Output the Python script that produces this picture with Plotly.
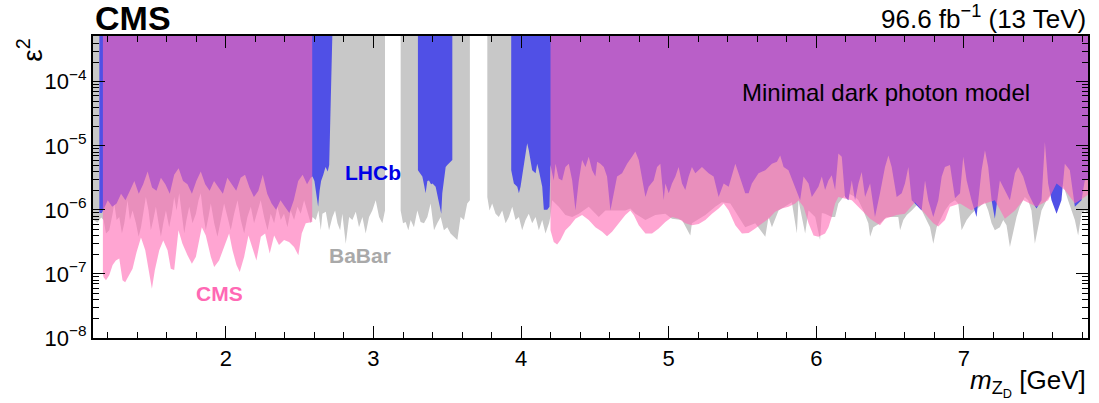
import plotly.graph_objects as go

# ---------------- data (mass in GeV, log10 of epsilon^2 lower boundary of excluded region) -------------
babar_seg1 = [
    (1.100, -6.15), (1.130, -6.20), (1.155, -6.12),
    (1.172, -6.16), (1.188, -6.37), (1.210, -6.32), (1.233, -6.06), (1.244, -5.90),
    (1.260, -6.16), (1.278, -6.11), (1.296, -6.37), (1.312, -6.21), (1.334, -5.85),
    (1.350, -6.16), (1.368, -6.01), (1.391, -6.21), (1.409, -6.42), (1.425, -6.27),
    (1.440, -6.06), (1.458, -5.80), (1.476, -6.01), (1.492, -6.32), (1.508, -6.16),
    (1.526, -5.95), (1.544, -6.21), (1.560, -6.42), (1.576, -6.21), (1.594, -6.01),
    (1.616, -6.27), (1.634, -6.06), (1.650, -5.80), (1.666, -6.01), (1.684, -5.74),
    (1.702, -6.11), (1.718, -6.37), (1.733, -6.16), (1.752, -5.95), (1.774, -6.21),
    (1.797, -6.06), (1.815, -5.85), (1.830, -5.74), (1.846, -6.06), (1.864, -6.32),
    (1.882, -6.11), (1.898, -5.90), (1.921, -6.21), (1.943, -6.42), (1.966, -6.16),
    (1.988, -5.90), (2.011, -6.11), (2.033, -6.32), (2.056, -6.06), (2.079, -5.85),
    (2.101, -6.16), (2.124, -6.37), (2.146, -6.11), (2.169, -5.95), (2.191, -6.21),
    (2.214, -6.01), (2.236, -5.85), (2.259, -6.11), (2.282, -6.32), (2.304, -6.06),
    (2.327, -6.21), (2.349, -5.95), (2.372, -6.16), (2.394, -6.06), (2.417, -6.27),
    (2.439, -6.01), (2.462, -6.16), (2.485, -5.95), (2.507, -6.06), (2.530, -5.85),
    (2.552, -6.01), (2.575, -6.21),
    (2.587, -6.11), (2.609, -6.16), (2.627, -6.01), (2.643, -6.32), (2.654, -6.06),
    (2.677, -6.03), (2.699, -6.32), (2.722, -6.11), (2.740, -6.01), (2.756, -6.21),
    (2.774, -6.32), (2.789, -6.06), (2.812, -6.53), (2.835, -6.11), (2.857, -6.16),
    (2.880, -6.03), (2.902, -6.27), (2.925, -6.11), (2.947, -6.37), (2.970, -6.11),
    (2.992, -6.01), (3.015, -5.85), (3.038, -6.11), (3.060, -6.21), (3.078, -6.01),
]
babar_seg2 = [
    (3.184, -6.01), (3.200, -6.21), (3.218, -6.19), (3.236, -6.32), (3.252, -6.16),
    (3.274, -6.27), (3.297, -6.01), (3.319, -6.19), (3.342, -6.21), (3.365, -6.11),
    (3.387, -5.90), (3.410, -6.32), (3.432, -6.21), (3.455, -6.11), (3.477, -6.32),
    (3.500, -6.27), (3.522, -6.37), (3.545, -6.42), (3.568, -6.47), (3.590, -6.11),
    (3.613, -6.16), (3.635, -5.90), (3.653, -5.85),
]
babar_seg3 = [
    (3.771, -5.80), (3.786, -6.01), (3.804, -5.90), (3.827, -6.06), (3.849, -6.11),
    (3.872, -6.01), (3.895, -6.21), (3.917, -6.11), (3.940, -5.95), (3.962, -6.16),
    (3.985, -6.11), (4.007, -6.32), (4.030, -6.16), (4.052, -6.06), (4.075, -6.21),
    (4.098, -6.11), (4.120, -6.32), (4.143, -6.16), (4.165, -6.37), (4.190, -6.20),
    (4.199, -6.10), (4.210, -5.85), (4.255, -5.95), (4.300, -6.08), (4.346, -6.11),
    (4.391, -6.06), (4.458, -5.95), (4.526, -6.11), (4.571, -6.01), (4.639, -6.01),
    (4.706, -6.01), (4.740, -5.98), (4.774, -6.06), (4.842, -6.16), (4.909, -6.08),
    (4.977, -6.06), (5.022, -6.14), (5.090, -6.16), (5.146, -6.40), (5.157, -6.21),
    (5.248, -6.08), (5.315, -5.95), (5.360, -5.88), (5.417, -5.90), (5.473, -6.11),
    (5.518, -6.27), (5.586, -6.21), (5.654, -6.42), (5.676, -6.11), (5.699, -6.27),
    (5.744, -6.01), (5.834, -5.88), (5.868, -6.37), (5.879, -5.85), (5.924, -6.37),
    (5.947, -6.01), (5.992, -6.11), (6.025, -6.47), (6.037, -6.05), (6.059, -6.06),
    (6.104, -6.11), (6.127, -6.11), (6.149, -5.90), (6.183, -5.80), (6.217, -5.74),
    (6.240, -5.77), (6.262, -5.80), (6.285, -5.85), (6.318, -6.01), (6.352, -6.21),
    (6.364, -6.42), (6.386, -6.27), (6.409, -6.24), (6.431, -6.21), (6.454, -6.16),
    (6.476, -6.11), (6.510, -6.11), (6.555, -6.11), (6.567, -6.32), (6.589, -6.16),
    (6.612, -6.08), (6.646, -6.01), (6.691, -5.90), (6.713, -6.01), (6.736, -6.11),
    (6.770, -6.27), (6.792, -6.53), (6.815, -6.27), (6.849, -6.11), (6.871, -6.01),
    (6.905, -5.90), (6.939, -5.85), (6.961, -5.90), (6.973, -6.11), (6.984, -6.32),
    (7.018, -6.16), (7.051, -6.06), (7.074, -6.01), (7.108, -5.95), (7.142, -5.88),
    (7.164, -6.01), (7.187, -6.21), (7.209, -6.32), (7.243, -6.27), (7.266, -6.16),
    (7.288, -6.24), (7.311, -6.58), (7.333, -6.37), (7.356, -6.11), (7.378, -5.95),
    (7.412, -5.80), (7.435, -5.85), (7.457, -6.01), (7.480, -6.53), (7.503, -6.27),
    (7.525, -6.01), (7.559, -5.85), (7.593, -5.74), (7.615, -5.69), (7.638, -5.59),
    (7.660, -5.56), (7.683, -5.69), (7.705, -5.85), (7.728, -6.01), (7.751, -6.16),
    (7.773, -6.40), (7.796, -6.06), (7.818, -6.01), (7.852, -6.06),
]

lhcb_seg1 = [
    (1.143, -6.05), (1.160, -6.05), (1.180, -5.95), (1.200, -5.85), (1.230, -5.95),
    (1.260, -5.90), (1.290, -5.75), (1.320, -5.85), (1.350, -5.70), (1.380, -5.55),
    (1.410, -5.75), (1.440, -5.60), (1.470, -5.40), (1.500, -5.65), (1.530, -5.70),
    (1.560, -5.50), (1.590, -5.60), (1.620, -5.75), (1.650, -5.45), (1.680, -5.35),
    (1.710, -5.55), (1.740, -5.60), (1.770, -5.75), (1.800, -5.55), (1.830, -5.40),
    (1.860, -5.60), (1.890, -5.70), (1.920, -5.55), (1.950, -5.65), (1.980, -5.75),
    (2.010, -5.50), (2.040, -5.60), (2.070, -5.70), (2.100, -5.50), (2.130, -5.45),
    (2.160, -5.65), (2.190, -5.80), (2.220, -5.70), (2.250, -5.45), (2.280, -5.75),
    (2.310, -5.90), (2.340, -6.00), (2.370, -5.85), (2.400, -5.95), (2.430, -6.05),
    (2.460, -5.85), (2.490, -5.55), (2.520, -5.45), (2.550, -5.60), (2.575, -5.50),
    (2.587, -5.48), (2.600, -5.55), (2.610, -5.75), (2.625, -5.95), (2.635, -5.70),
    (2.645, -5.55), (2.660, -5.45), (2.675, -5.33), (2.690, -5.40), (2.700, -5.30),
    (2.722, -3.20),
]
lhcb_seg2 = [
    (3.301, -5.38), (3.315, -5.43), (3.331, -5.48), (3.345, -5.64), (3.353, -5.74),
    (3.365, -5.55), (3.376, -5.54), (3.390, -5.60), (3.400, -5.59), (3.421, -5.64),
    (3.444, -5.90), (3.459, -6.06), (3.466, -5.74), (3.480, -5.50), (3.489, -5.33),
    (3.500, -5.30), (3.511, -5.27), (3.525, -5.25), (3.534, -5.22),
]
lhcb_seg3 = [
    (3.933, -5.38), (3.951, -5.59), (3.974, -5.64), (3.985, -5.74), (3.996, -5.64),
    (4.019, -5.28), (4.041, -4.96), (4.052, -5.07), (4.075, -5.38), (4.098, -5.43),
    (4.109, -5.28), (4.120, -5.38), (4.143, -5.64), (4.154, -6.00), (4.177, -6.00),
    (4.192, -5.95),
    (4.199, -5.30), (4.221, -5.54), (4.233, -5.28), (4.255, -5.51), (4.278, -5.54),
    (4.300, -5.33), (4.323, -5.28), (4.346, -5.54), (4.368, -6.01), (4.391, -5.54),
    (4.413, -5.22), (4.436, -5.33), (4.458, -5.17), (4.481, -5.38), (4.503, -5.48),
    (4.515, -5.25), (4.537, -5.28), (4.560, -5.33), (4.582, -5.48), (4.605, -6.01),
    (4.627, -5.74), (4.650, -5.48), (4.684, -5.43), (4.718, -5.28), (4.751, -5.17),
    (4.774, -5.09), (4.797, -5.22), (4.819, -5.54), (4.842, -5.80), (4.864, -5.64),
    (4.898, -5.54), (4.921, -5.33), (4.943, -5.28), (4.966, -5.85), (4.977, -5.59),
    (5.000, -5.74), (5.022, -5.59), (5.045, -5.48), (5.067, -5.33), (5.090, -5.59),
    (5.112, -5.69), (5.135, -5.48), (5.157, -5.33), (5.180, -5.43), (5.225, -5.33),
    (5.270, -5.43), (5.304, -5.48), (5.338, -5.80), (5.372, -5.59), (5.406, -5.64),
    (5.451, -5.28), (5.473, -5.43), (5.496, -5.59), (5.518, -5.74), (5.541, -5.74),
    (5.563, -5.59), (5.608, -5.43), (5.654, -5.38), (5.699, -5.28), (5.733, -5.25),
    (5.755, -5.15), (5.778, -5.33), (5.811, -5.38), (5.857, -5.64), (5.890, -5.85),
    (5.913, -5.48), (5.947, -5.59), (5.969, -5.80), (6.014, -5.64),
    (6.037, -5.48), (6.059, -5.69), (6.082, -5.54), (6.104, -5.46), (6.127, -5.69),
    (6.149, -5.12), (6.172, -5.17), (6.194, -5.80), (6.217, -5.85), (6.240, -5.54),
    (6.262, -5.85), (6.285, -5.59), (6.307, -5.41), (6.330, -5.80), (6.364, -5.59),
    (6.397, -6.11), (6.431, -5.74), (6.465, -5.33), (6.488, -5.15), (6.510, -5.33),
    (6.544, -5.80), (6.578, -5.74), (6.600, -5.59), (6.623, -5.33), (6.646, -5.85),
    (6.668, -5.90), (6.691, -5.95), (6.713, -6.01), (6.736, -5.54), (6.758, -5.85),
    (6.792, -6.11), (6.826, -5.85), (6.849, -5.48), (6.871, -5.33), (6.905, -5.30),
    (6.939, -5.82), (6.973, -5.74), (6.995, -5.17), (7.018, -5.54), (7.051, -5.85),
    (7.085, -6.11), (7.119, -5.38), (7.142, -5.07), (7.164, -5.33), (7.187, -5.85),
    (7.209, -6.14), (7.243, -5.54), (7.277, -5.69), (7.311, -5.85), (7.345, -5.43),
    (7.367, -5.33), (7.401, -5.48), (7.435, -5.74), (7.469, -5.90), (7.491, -5.98),
    (7.525, -5.85), (7.548, -4.94), (7.570, -5.59), (7.593, -5.85), (7.627, -6.06),
    (7.660, -5.85), (7.683, -5.28), (7.717, -5.38), (7.751, -5.95), (7.796, -5.85),
    (7.818, -5.54), (7.852, -5.51),
]

cms_seg1 = [
    (1.167, -7.00), (1.172, -7.05), (1.188, -7.10), (1.210, -7.02), (1.233, -6.86),
    (1.255, -6.79), (1.278, -6.76), (1.300, -7.10), (1.318, -7.13), (1.346, -7.02),
    (1.368, -6.92), (1.395, -6.66), (1.425, -6.43), (1.454, -6.63), (1.481, -6.99),
    (1.499, -7.23), (1.519, -6.94), (1.549, -6.63), (1.576, -6.48), (1.605, -6.63),
    (1.627, -6.92), (1.650, -6.94), (1.679, -6.32), (1.706, -6.53), (1.740, -6.71),
    (1.770, -6.84), (1.797, -6.73), (1.837, -6.27), (1.864, -6.40), (1.898, -6.73),
    (1.921, -6.89), (1.954, -6.79), (1.988, -6.58), (2.022, -6.37), (2.045, -6.63),
    (2.072, -6.86), (2.094, -6.97), (2.124, -6.73), (2.153, -6.40), (2.180, -6.58),
    (2.207, -6.79), (2.237, -6.42), (2.266, -6.37), (2.297, -6.68), (2.327, -6.40),
    (2.360, -6.55), (2.394, -6.47), (2.428, -6.50), (2.462, -6.58), (2.491, -6.71),
    (2.514, -6.37), (2.541, -6.21), (2.575, -6.19), (2.585, -6.19),
]
cms_seg2 = [
    (4.199, -6.32), (4.221, -6.50), (4.244, -6.54), (4.267, -6.47), (4.300, -6.32),
    (4.334, -6.24), (4.368, -6.14), (4.413, -6.08), (4.458, -6.16), (4.503, -6.27),
    (4.549, -6.34), (4.582, -6.41), (4.616, -6.34), (4.661, -6.21), (4.706, -6.08),
    (4.740, -6.01), (4.763, -6.08), (4.797, -6.24), (4.842, -6.37), (4.887, -6.37),
    (4.932, -6.29), (4.977, -6.19), (5.022, -6.11), (5.067, -6.14), (5.112, -6.21),
    (5.157, -6.24), (5.203, -6.22), (5.248, -6.16), (5.293, -6.06), (5.338, -5.98),
    (5.372, -5.90), (5.406, -6.01), (5.451, -6.24), (5.496, -6.37), (5.541, -6.36),
    (5.586, -6.29), (5.631, -6.21), (5.676, -6.14), (5.721, -6.03), (5.766, -5.98),
    (5.811, -5.95), (5.857, -5.90), (5.879, -5.85), (5.913, -5.95), (5.947, -6.21),
    (5.981, -6.40), (6.014, -6.42), (6.059, -6.37), (6.082, -6.27), (6.104, -6.11),
    (6.127, -5.90), (6.149, -5.80), (6.240, -5.85), (6.307, -6.01), (6.364, -6.14),
    (6.397, -6.19), (6.431, -6.24), (6.465, -6.14), (6.544, -6.08), (6.600, -6.06),
    (6.668, -5.88), (6.736, -6.06), (6.792, -6.21), (6.826, -6.26), (6.871, -6.16),
    (6.905, -5.95), (6.973, -5.90), (7.051, -6.01), (7.085, -5.95), (7.142, -5.90),
    (7.209, -5.85), (7.277, -6.14), (7.345, -6.01), (7.401, -5.85), (7.491, -5.95),
    (7.570, -5.85), (7.627, -5.59), (7.683, -5.69), (7.751, -5.90), (7.818, -5.80),
    (7.852, -5.74),
]

x_major = [2, 3, 4, 5, 6, 7]
y_major_exp = [-8, -7, -6, -5, -4]
y_major_labels = ["10<sup>\u22128</sup>", "10<sup>\u22127</sup>", "10<sup>\u22126</sup>",
                  "10<sup>\u22125</sup>", "10<sup>\u22124</sup>"]
x_range = [1.1, 7.84]
y_range_exp = [-8, -3.286]
TOP = 1e-2  # polygons are closed above the visible range

BABAR_COLOR = "#c8c8c8"
LHCB_COLOR = "#5050e6"
CMS_COLOR = "rgba(255,105,180,0.6)"
FONT = "Liberation Sans, Arial, Helvetica, sans-serif"


def excluded_region(segments):
    xs, ys = [], []
    for seg in segments:
        m = [p[0] for p in seg]
        e = [10 ** p[1] for p in seg]
        xs += m + [m[-1], m[0], m[0], None]
        ys += e + [TOP, TOP, e[0], None]
    return xs, ys


fig = go.Figure()
for segs, col, name in [([babar_seg1, babar_seg2, babar_seg3], BABAR_COLOR, "BaBar"),
                        ([lhcb_seg1, lhcb_seg2, lhcb_seg3], LHCB_COLOR, "LHCb"),
                        ([cms_seg1, cms_seg2], CMS_COLOR, "CMS")]:
    xs, ys = excluded_region(segs)
    fig.add_trace(go.Scatter(x=xs, y=ys, mode="lines", fill="toself", fillcolor=col,
                             line=dict(width=0, color=col), name=name, hoverinfo="skip"))

x_minor = [round(1.2 + 0.2 * i, 1) for i in range(34)]
x_minor = [v for v in x_minor if abs(v - round(v)) > 1e-6 and v <= 7.84]
y_minor = [k * 10.0 ** n for n in range(-8, -3) for k in range(2, 10)] + [k * 1e-4 for k in range(2, 6)]

axis_common = dict(showline=True, linewidth=2, linecolor="black", mirror="ticks",
                   ticks="inside", tickwidth=1, tickcolor="black", ticklen=12,
                   showgrid=False, zeroline=False,
                   tickfont=dict(family=FONT, size=22, color="black"))
fig.update_xaxes(range=x_range, tickvals=x_major, ticktext=[str(v) for v in x_major],
                 minor=dict(tickvals=x_minor, ticks="inside", ticklen=6, tickwidth=1,
                            tickcolor="black", showgrid=False),
                 **axis_common)
fig.update_yaxes(type="log", range=y_range_exp, tickvals=[10.0 ** e for e in y_major_exp],
                 ticktext=y_major_labels,
                 minor=dict(tickvals=y_minor, ticks="inside", ticklen=6, tickwidth=1,
                            tickcolor="black", showgrid=False),
                 **axis_common)

annotations = [
    dict(text="<b>CMS</b>", xref="paper", yref="paper", x=0.0, y=1.058, xanchor="left",
         yanchor="middle", showarrow=False, font=dict(family=FONT, size=34, color="black")),
    dict(text="96.6 fb<sup>\u22121</sup> (13 TeV)", xref="paper", yref="paper", x=1.0, y=1.061,
         xanchor="right", yanchor="middle", showarrow=False,
         font=dict(family=FONT, size=26, color="black")),
    dict(text="Minimal dark photon model", xref="x", yref="y", x=6.474, y=-4.17,
         xanchor="center", yanchor="middle", showarrow=False,
         font=dict(family=FONT, size=24, color="black")),
    dict(text="<b>LHCb</b>", xref="x", yref="y", x=2.997, y=-5.41, xanchor="center",
         yanchor="middle", showarrow=False, font=dict(family=FONT, size=21, color="#0000e6")),
    dict(text="<b>BaBar</b>", xref="x", yref="y", x=2.909, y=-6.71, xanchor="center",
         yanchor="middle", showarrow=False, font=dict(family=FONT, size=21, color="#a9a9a9")),
    dict(text="<b>CMS</b>", xref="x", yref="y", x=1.955, y=-7.30, xanchor="center",
         yanchor="middle", showarrow=False, font=dict(family=FONT, size=21, color="#ff69b4")),
    dict(text="<i>m</i><sub>Z<sub>D</sub></sub> [GeV]", xref="paper", yref="paper", x=1.0,
         y=-0.15, xanchor="right", yanchor="middle", showarrow=False,
         font=dict(family=FONT, size=26, color="black")),
    dict(text="\u03b5<sup>2</sup>", xref="paper", yref="paper", x=-0.063, y=0.952,
         xanchor="center", yanchor="middle", textangle=-90, showarrow=False,
         font=dict(family=FONT, size=28, color="black")),
]

fig.update_layout(width=1099, height=403, margin=dict(l=93, r=9, t=36, b=65, pad=0),
                  plot_bgcolor="white", paper_bgcolor="white", showlegend=False,
                  font=dict(family=FONT, size=20, color="black"),
                  annotations=annotations)

fig.write_html("out.html", config={"displayModeBar": False},
               post_script="document.body.style.margin='0';document.body.style.padding='0';")
